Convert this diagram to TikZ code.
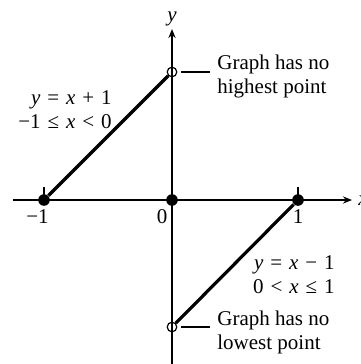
\documentclass[tikz,border=0pt]{standalone}
\usepackage{fontspec}
\setmainfont{Liberation Serif}
\usetikzlibrary{arrows.meta}
\newcommand\vx{\textit{x}}
\newcommand\vy{\textit{y}}
\newcommand\ms{\hspace{0.33em}}
\begin{document}
\begin{tikzpicture}[x=0.5pt,y=-0.5pt,
  font=\fontsize{10.5}{12}\selectfont,
  axis/.style={line width=0.9pt},
  seg/.style={line width=1.6pt},
  dotf/.style={circle,fill,inner sep=0pt,minimum size=5.8pt},
  doto/.style={circle,draw,line width=0.6pt,inner sep=0pt,minimum size=4.8pt},
  lead/.style={line width=0.8pt},
  tip/.style={-{Stealth[length=4.5pt,width=3.6pt]}},
  lbl/.style={inner sep=0pt}]
\useasboundingbox (0,0) rectangle (360,364);
% axes
\coordinate (xl) at (13,200);
\coordinate (xr) at (352,200);
\coordinate (yb) at (172,366);
\coordinate (yt) at (172,29);
\draw[axis,tip] (xl) -- (xr);
\draw[axis,tip] (yb) -- (yt);
% ticks
\coordinate (tm1) at (44,187);
\coordinate (tm1b) at (44,200);
\coordinate (tp1) at (298,187);
\coordinate (tp1b) at (298,200);
\draw[axis] (tm1) -- (tm1b);
\draw[axis] (tp1) -- (tp1b);
% points
\node[dotf] (m1) at (44,200) {};
\node[dotf] (o) at (172,200) {};
\node[dotf] (p1) at (298,200) {};
\node[doto] (hi) at (172,72) {};
\node[doto] (lo) at (172,327) {};
% segments
\draw[seg] (m1) -- (hi);
\draw[seg] (lo) -- (p1);
% axis labels
\node[lbl,anchor=base] (ylab) at (172,21) {\vy};
\node[lbl,anchor=base west] (xlab) at (358,205) {\vx};
\node[lbl,anchor=base east] (lm1) at (49,223) {\char"2212 1};
\node[lbl,anchor=base] (l0) at (162,223) {0};
\node[lbl,anchor=base] (l1) at (298,223) {1};
% equations
\node[lbl,anchor=east,align=right] (eq1) at (112,110)
  {\vy\ms=\ms\vx\ms+\ms1\\\char"2212 1\ms\char"2264\ms\vx\ms<\ms0};
\node[lbl,anchor=east,align=right] (eq2) at (335,275)
  {\vy\ms=\ms\vx\ms\char"2212\ms1\\0\ms<\ms\vx\ms\char"2264\ms1};
% annotations
\node[lbl,anchor=west,align=left] (hitext) at (217,76) {Graph has no\\highest point};
\node[lbl,anchor=west,align=left] (lotext) at (217,332) {Graph has no\\lowest point};
\draw[lead] ([xshift=2pt]hi.east) -- ([xshift=-3.5pt]hi -| hitext.west);
\draw[lead] ([xshift=2pt]lo.east) -- ([xshift=-3.5pt]lo -| lotext.west);
\end{tikzpicture}
\end{document}
